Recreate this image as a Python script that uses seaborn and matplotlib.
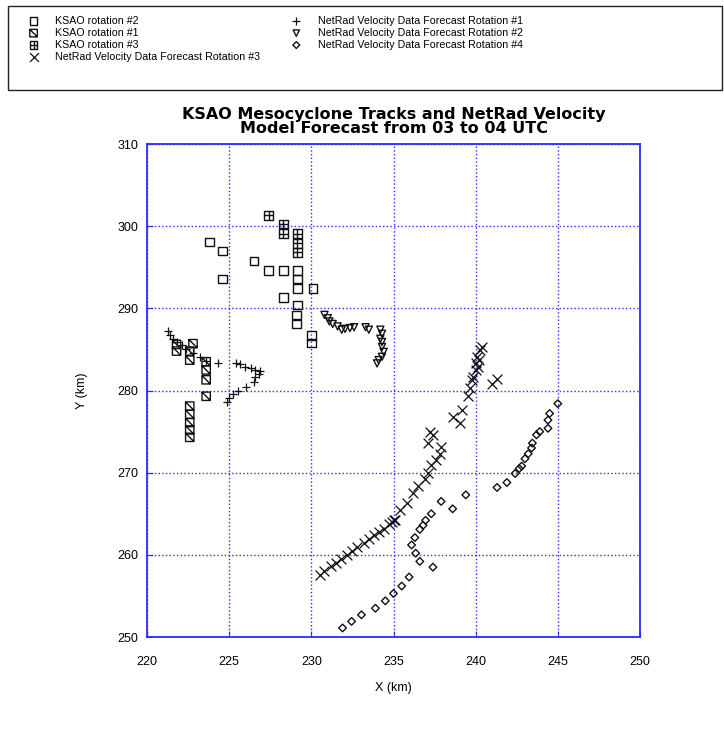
import matplotlib
matplotlib.use('Agg')
import matplotlib.pyplot as plt
import seaborn as sns
import pandas as pd
import numpy as np
from matplotlib.path import Path
from matplotlib.patches import Rectangle

# data (km)
ksao2_x = [223.8, 224.6, 224.6, 226.5, 227.4, 228.3, 229.15, 229.15, 229.15, 230.1,
           228.3, 229.15, 229.1, 229.1, 230.0, 230.0]
ksao2_y = [298.1, 297.0, 293.6, 295.8, 294.6, 294.6, 294.6, 293.6, 292.4, 292.4,
           291.3, 290.4, 289.2, 288.1, 286.7, 285.8]

ksao1_x = [221.8, 221.8, 222.8, 222.6, 222.6, 223.6, 223.6, 223.6, 223.6,
           222.6, 222.6, 222.6, 222.6, 222.6]
ksao1_y = [285.6, 284.8, 285.7, 284.8, 283.7, 283.5, 282.5, 281.3, 279.3,
           278.1, 277.1, 276.1, 275.2, 274.3]

ksao3_x = [227.4, 228.3, 228.3, 229.15, 229.15, 229.15]
ksao3_y = [301.3, 300.3, 299.1, 299.1, 297.9, 296.8]

nr1_x = [221.3, 221.4, 221.6, 221.8, 222.1, 222.4, 222.8, 223.2, 223.6, 224.3,
         225.4, 225.65, 225.95, 226.3, 226.6, 226.9, 226.8, 226.6, 226.5, 226.0,
         225.55, 225.25, 225.0, 224.85]
nr1_y = [287.2, 286.7, 286.3, 285.9, 285.5, 285.1, 284.6, 284.1, 283.6, 283.4,
         283.4, 283.2, 282.9, 282.7, 282.5, 282.4, 282.0, 281.6, 281.0, 280.4,
         280.0, 279.6, 279.1, 278.6]

nr2_x = [230.8, 231.0, 231.1, 231.3, 231.6, 231.85, 232.05, 232.35, 232.6, 233.3,
         233.5, 234.2, 234.3, 234.2, 234.3, 234.3, 234.4, 234.3, 234.1, 234.0]
nr2_y = [289.2, 288.8, 288.4, 288.1, 287.8, 287.4, 287.5, 287.6, 287.7, 287.7,
         287.4, 287.4, 286.9, 286.3, 285.9, 285.3, 284.7, 284.1, 283.7, 283.3]

nr3_x = [230.5, 230.8, 231.2, 231.5, 231.8, 232.2, 232.5, 232.8, 233.2, 233.5,
         233.8, 234.1, 234.4, 234.7, 234.9, 235.0, 235.1, 235.4, 235.8, 236.2,
         236.5, 236.9, 237.1, 237.3, 237.6, 237.8, 237.9, 237.1, 237.4, 237.25,
         238.65, 239.05, 239.15, 239.55, 239.65, 239.75, 239.85, 240.0, 240.15, 240.05,
         240.2, 240.1, 240.25, 240.4, 241.0, 241.3]
nr3_y = [257.6, 258.0, 258.6, 259.0, 259.5, 260.0, 260.5, 260.9, 261.5, 261.9,
         262.4, 262.8, 263.2, 263.7, 264.0, 264.2, 264.3, 265.4, 266.3, 267.5,
         268.4, 269.2, 270.0, 270.9, 271.5, 272.3, 273.1, 273.6, 274.6, 275.0,
         276.8, 276.0, 277.6, 279.3, 280.3, 281.3, 281.7, 282.5, 282.9, 283.3,
         283.7, 284.1, 284.9, 285.3, 280.8, 281.4]

nr4_x = [231.9, 232.45, 233.05, 233.9, 234.5, 235.0, 235.5, 235.95, 236.6, 236.35,
         236.1, 236.3, 236.6, 236.8, 236.95, 237.3, 237.4, 237.9, 238.6, 239.4,
         241.3, 241.9, 242.4, 242.65, 242.8, 243.0, 243.2, 243.4, 243.45, 243.7,
         243.9, 244.4, 244.4, 244.5, 245.0]
nr4_y = [251.1, 251.9, 252.7, 253.5, 254.4, 255.3, 256.2, 257.3, 259.2, 260.2,
         261.2, 262.1, 263.1, 263.6, 264.2, 265.0, 258.5, 266.5, 265.6, 267.3,
         268.2, 268.8, 269.9, 270.5, 270.8, 271.7, 272.3, 273.0, 273.6, 274.6,
         275.0, 275.4, 276.4, 277.2, 278.4]

# custom square markers: with a slash and with a cross
sq_slash = Path([(-1, -1), (1, -1), (1, 1), (-1, 1), (-1, -1), (-1, 1), (1, -1)],
                [Path.MOVETO, Path.LINETO, Path.LINETO, Path.LINETO, Path.CLOSEPOLY,
                 Path.MOVETO, Path.LINETO])
sq_cross = Path([(-1, -1), (1, -1), (1, 1), (-1, 1), (-1, -1), (0, -1), (0, 1), (-1, 0), (1, 0)],
                [Path.MOVETO, Path.LINETO, Path.LINETO, Path.LINETO, Path.CLOSEPOLY,
                 Path.MOVETO, Path.LINETO, Path.MOVETO, Path.LINETO])

series = [
    ('KSAO rotation #2', ksao2_x, ksao2_y, 's', 36, True),
    ('KSAO rotation #1', ksao1_x, ksao1_y, sq_slash, 36, True),
    ('KSAO rotation #3', ksao3_x, ksao3_y, sq_cross, 36, True),
    ('NetRad Velocity Data Forecast Rotation #3', nr3_x, nr3_y, 'x', 50, False),
    ('NetRad Velocity Data Forecast Rotation #1', nr1_x, nr1_y, '+', 40, False),
    ('NetRad Velocity Data Forecast Rotation #2', nr2_x, nr2_y, 'v', 26, True),
    ('NetRad Velocity Data Forecast Rotation #4', nr4_x, nr4_y, 'D', 15, True),
]

sns.set_style('white')
plt.rcParams['font.family'] = ['Liberation Sans', 'DejaVu Sans']
plt.rcParams['text.color'] = 'black'
plt.rcParams['axes.labelcolor'] = 'black'

fig = plt.figure(figsize=(7.24, 7.29), dpi=100, facecolor='white')
ax = fig.add_axes([147 / 724, 1 - 637 / 729, 493 / 724, 493 / 729])

blue = '#2b2bff'
for label, xs, ys, mk, size, hollow in series:
    if hollow:
        sns.scatterplot(x=xs, y=ys, ax=ax, marker=mk, s=size, color='black',
                        facecolor='none', edgecolor='#111111', linewidth=1.0,
                        label=label, zorder=3)
    else:
        sns.scatterplot(x=xs, y=ys, ax=ax, marker=mk, s=size, color='#111111',
                        linewidth=0.9, label=label, zorder=3)

ax.set_xlim(220, 250)
ax.set_ylim(250, 310)
ax.set_xticks(np.arange(220, 251, 5))
ax.set_yticks(np.arange(250, 311, 10))
ax.grid(True, color=blue, linestyle=':', linewidth=1.0)
ax.set_axisbelow(True)
for sp in ax.spines.values():
    sp.set_color(blue)
    sp.set_linewidth(1.3)
ax.tick_params(direction='in', length=4, color=blue, labelsize=9, labelcolor='black',
               left=True, bottom=True)
ax.tick_params(axis='x', pad=14)
ax.tick_params(axis='y', pad=6)
ax.set_xlabel('X (km)', fontsize=9, labelpad=10)
ax.set_ylabel('Y (km)', fontsize=9, labelpad=21)
ax.set_title('KSAO Mesocyclone Tracks and NetRad Velocity\nModel Forecast from 03 to 04 UTC',
             fontsize=11.5, fontweight='bold', family='DejaVu Sans', color='black',
             pad=8, linespacing=0.92)

handles, labels = ax.get_legend_handles_labels()
ax.get_legend().remove()
fig.legend(handles, labels, loc='upper left', bbox_to_anchor=(25 / 724, 1 - 16 / 729),
           ncol=2, frameon=False, fontsize=7.7, borderaxespad=0, borderpad=0,
           handlelength=1.6, handletextpad=1.2, labelspacing=0.18, columnspacing=2.6,
           markerscale=0.9)
fig.patches.append(Rectangle((8 / 724, 1 - 90 / 729), 714 / 724, 84 / 729,
                             transform=fig.transFigure, fill=False,
                             edgecolor='#222222', linewidth=1.0))

fig.savefig('out.png', dpi=100, facecolor='white')
